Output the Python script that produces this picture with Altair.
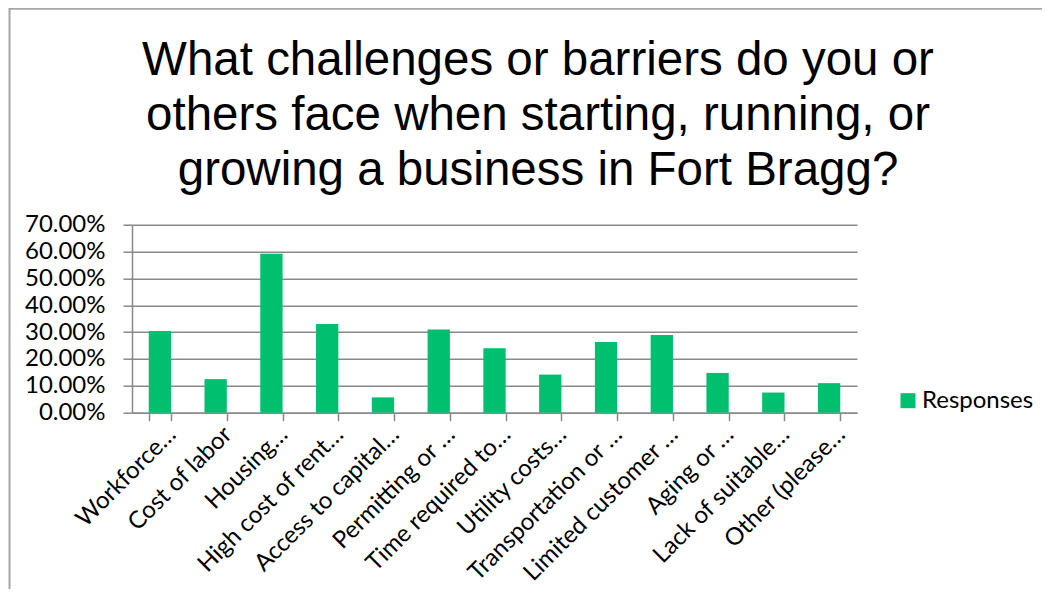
import altair as alt
import pandas as pd

categories = [
    "Workforce…", "Cost of labor", "Housing…", "High cost of rent…",
    "Access to capital…", "Permitting or …", "Time required to…",
    "Utility costs…", "Transportation or …", "Limited customer …",
    "Aging or …", "Lack of suitable…", "Other (please…",
]
values = [0.304, 0.125, 0.592, 0.330, 0.057, 0.310, 0.240,
          0.142, 0.263, 0.289, 0.148, 0.075, 0.110]
series = ["Responses"] * len(categories)
title_lines = [
    "What challenges or barriers do you or",
    "others face when starting, running, or",
    "growing a business in Fort Bragg?",
]
y_ticks = [0.0, 0.1, 0.2, 0.3, 0.4, 0.5, 0.6, 0.7]

df = pd.DataFrame({"category": categories, "value": values, "series": series})

GREEN = "#00BF6F"
GRAY = "#898989"
W, H = 725, 188
PAD_L, PAD_T = 124, 216.7
LABEL_FONT = "Lato"
LABEL_SIZE = 24

base = alt.Chart(df)

bars = base.mark_bar(color=GREEN).encode(
    x=alt.X(
        "category:N",
        sort=categories,
        scale=alt.Scale(paddingInner=0.6, paddingOuter=0.3),
        axis=alt.Axis(
            title=None,
            labelAngle=-45,
            labelAlign="right",
            labelBaseline="middle",
            labelFont=LABEL_FONT,
            labelFontSize=LABEL_SIZE,
            labelColor="#000000",
            labelOffset=12,
            labelPadding=10,
            labelLimit=400,
            tickBand="extent",
            tickSize=8,
            tickColor=GRAY,
            tickWidth=1.5,
            domainColor=GRAY,
            domainWidth=1.5,
            grid=False,
        ),
    ),
    y=alt.Y(
        "value:Q",
        scale=alt.Scale(domain=[0, 0.7], nice=False),
        axis=alt.Axis(
            title=None,
            values=y_ticks,
            format=".2%",
            labelFont=LABEL_FONT,
            labelFontSize=LABEL_SIZE,
            labelColor="#000000",
            labelPadding=18,
            tickSize=9,
            tickColor=GRAY,
            tickWidth=1.5,
            domainColor=GRAY,
            domainWidth=1.5,
            grid=True,
            gridColor=GRAY,
            gridWidth=1.5,
        ),
    ),
    color=alt.Color(
        "series:N",
        scale=alt.Scale(domain=["Responses"], range=[GREEN]),
        legend=alt.Legend(
            title=None,
            orient="none",
            legendX=764,
            legendY=164,
            symbolType="square",
            symbolSize=225,
            symbolStrokeWidth=0,
            symbolOpacity=1,
            labelFont=LABEL_FONT,
            labelFontSize=LABEL_SIZE,
            labelColor="#000000",
            labelOffset=2,
            padding=0,
        ),
    ),
)

title_layers = []
for i, line in enumerate(title_lines):
    title_layers.append(
        alt.Chart(pd.DataFrame({"t": [line]})).mark_text(
            font="Liberation Sans",
            fontSize=47.5,
            color="#000000",
            align="center",
            baseline="alphabetic",
        ).encode(
            text="t:N",
            x=alt.value(538 - 8 - PAD_L),
            y=alt.value(75 + 55 * i - 8 - PAD_T),
        )
    )

border_top = alt.Chart(pd.DataFrame({"a": [0]})).mark_rule(
    color="#a6a6a6", strokeWidth=2
).encode(
    x=alt.value(9.5 - 8 - PAD_L),
    x2=alt.value(1050 - 8 - PAD_L),
    y=alt.value(0.8 - PAD_T),
)
border_left = alt.Chart(pd.DataFrame({"a": [0]})).mark_rule(
    color="#a6a6a6", strokeWidth=2
).encode(
    x=alt.value(9.5 - 8 - PAD_L),
    y=alt.value(0 - PAD_T),
    y2=alt.value(602 - PAD_T),
)

chart = alt.layer(bars, border_top, border_left, *title_layers).properties(
    width=W,
    height=H,
    padding={"left": PAD_L, "top": PAD_T, "right": 1034 - PAD_L - W, "bottom": 176},
    autosize=alt.AutoSizeParams(type="none"),
    background="#ffffff",
).configure_view(stroke=None)

chart.save("out.html", embed_options={"renderer": "svg", "actions": False})
